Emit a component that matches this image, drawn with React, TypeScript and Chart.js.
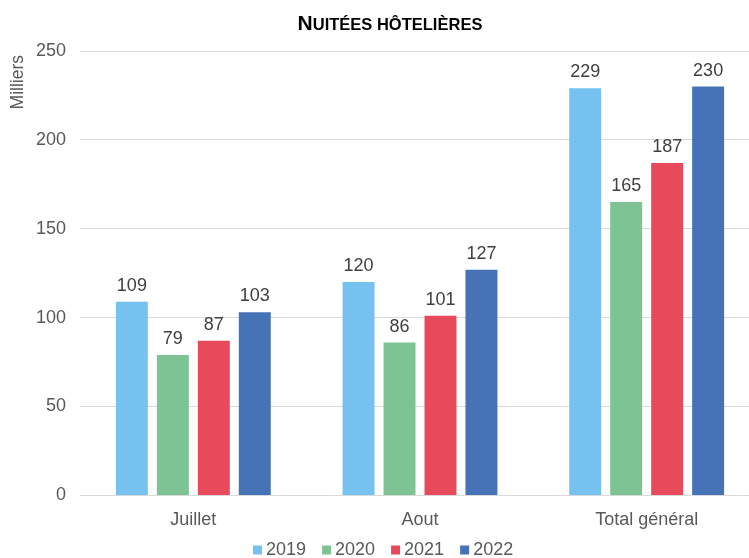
import React, { useEffect, useRef } from "react";
import { Chart, registerables } from "chart.js";

Chart.register(...registerables);

const categories = ["Juillet", "Aout", "Total général"];
const seriesNames = ["2019", "2020", "2021", "2022"];
const values2019 = [109, 120, 229];
const values2020 = [79, 86, 165];
const values2021 = [87, 101, 187];
const values2022 = [103, 127, 230];
const colors = ["#75c2f0", "#7dc394", "#e84a5b", "#4672b8"];
const yTicks = [0, 50, 100, 150, 200, 250];
const titleBig = "N";
const titleSmall = "UITÉES HÔTELIÈRES";
const yTitle = "Milliers";

const FONT = "Arial, 'Liberation Sans', sans-serif";

const titlePlugin = {
  id: "smallCapsTitle",
  afterDraw(chart: any) {
    const ctx = chart.ctx;
    ctx.save();
    ctx.fillStyle = "#000000";
    ctx.textBaseline = "alphabetic";
    ctx.textAlign = "left";
    const bigFont = `bold 21px ${FONT}`;
    const smallFont = `bold 16.5px ${FONT}`;
    ctx.font = bigFont;
    const w1 = ctx.measureText(titleBig).width;
    ctx.font = smallFont;
    const w2 = ctx.measureText(titleSmall).width;
    const cx = 390;
    const x0 = cx - (w1 + w2) / 2;
    const y = 30;
    ctx.font = bigFont;
    ctx.fillText(titleBig, x0, y);
    ctx.font = smallFont;
    ctx.fillText(titleSmall, x0 + w1, y);

    // y axis title
    ctx.save();
    ctx.translate(18, 55);
    ctx.rotate(-Math.PI / 2);
    ctx.font = `17.5px ${FONT}`;
    ctx.fillStyle = "#595959";
    ctx.textAlign = "right";
    ctx.textBaseline = "middle";
    ctx.fillText(yTitle, 0, 0);
    ctx.restore();

    // legend
    ctx.font = `18px ${FONT}`;
    ctx.textBaseline = "middle";
    ctx.textAlign = "left";
    let x = 253;
    const ly = 550;
    chart.data.datasets.forEach((ds: any) => {
      ctx.fillStyle = ds.backgroundColor;
      ctx.fillRect(x, ly - 4.5, 9, 9);
      ctx.fillStyle = "#595959";
      ctx.fillText(ds.label, x + 13, ly);
      x += 13 + ctx.measureText(ds.label).width + 16;
    });
    ctx.restore();
  },
};

const labelPlugin = {
  id: "barLabels",
  afterDatasetsDraw(chart: any) {
    const ctx = chart.ctx;
    ctx.save();
    ctx.font = `18px ${FONT}`;
    ctx.fillStyle = "#404040";
    ctx.textAlign = "center";
    ctx.textBaseline = "alphabetic";
    chart.data.datasets.forEach((ds: any, i: number) => {
      const meta = chart.getDatasetMeta(i);
      meta.data.forEach((el: any, j: number) => {
        ctx.fillText(String(ds.data[j]), el.x, el.y - 11);
      });
    });
    ctx.restore();
  },
};

export default function App() {
  const ref = useRef<HTMLCanvasElement>(null);
  useEffect(() => {
    document.body.style.margin = "0";
    const seriesValues = [values2019, values2020, values2021, values2022];
    const chart = new Chart(ref.current!, {
      type: "bar",
      data: {
        labels: categories,
        datasets: seriesNames.map((n, i) => ({
          label: n,
          data: seriesValues[i],
          backgroundColor: colors[i],
          borderWidth: 0,
          barPercentage: 0.78,
          categoryPercentage: 0.723,
        })),
      },
      options: {
        animation: false,
        responsive: false,
        maintainAspectRatio: false,
        layout: { padding: { top: 51, right: 0, left: 0, bottom: 13 } },
        plugins: {
          title: { display: false },
          tooltip: { enabled: false },
          legend: { display: false },
        },
        scales: {
          x: {
            grid: { display: false, drawTicks: false },
            border: { display: true, color: "#d9d9d9", width: 1 },
            ticks: { color: "#595959", font: { family: FONT, size: 18 }, padding: 14, maxRotation: 0 },
          },
          y: {
            min: 0,
            max: 250,
            afterBuildTicks: (axis: any) => {
              axis.ticks = yTicks.map((v) => ({ value: v }));
            },
            afterFit: (s: any) => {
              s.width = 80;
            },
            grid: { color: "#d9d9d9", drawTicks: false },
            border: { display: false },
            ticks: { color: "#595959", font: { family: FONT, size: 18 }, padding: 14 },
          },
        },
      },
      plugins: [titlePlugin, labelPlugin],
    } as any);
    return () => chart.destroy();
  }, []);
  return (
    <div style={{ width: 749, height: 558, overflow: "hidden" }}>
      <canvas ref={ref} width={760} height={558} style={{ display: "block" }} />
    </div>
  );
}
